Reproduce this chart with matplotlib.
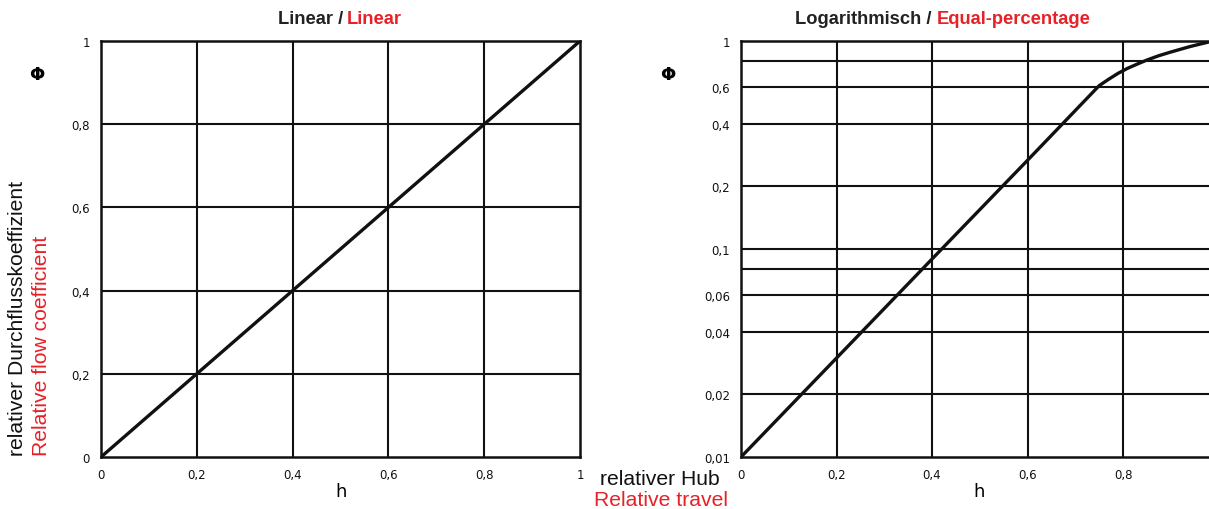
import matplotlib
matplotlib.use("Agg")
import matplotlib.pyplot as plt

# Linear characteristic
lin_h = [0.0, 1.0]
lin_phi = [0.0, 1.0]
lin_ticks = [0, 0.2, 0.4, 0.6, 0.8, 1]
lin_labels = ["0", "0,2", "0,4", "0,6", "0,8", "1"]

# Equal-percentage characteristic
eq_h = [0.0, 0.2, 0.4, 0.6, 0.75, 0.77, 0.79, 0.81, 0.83, 0.85, 0.875, 0.9, 0.94, 0.98]
eq_phi = [0.01, 0.0299, 0.0895, 0.267, 0.61, 0.655, 0.70, 0.74, 0.775, 0.81, 0.85, 0.885, 0.94, 0.99]
eq_xticks = [0, 0.2, 0.4, 0.6, 0.8]
eq_xlabels = ["0", "0,2", "0,4", "0,6", "0,8"]
eq_yticks = [0.01, 0.02, 0.04, 0.06, 0.1, 0.2, 0.4, 0.6, 1]
eq_ylabels = ["0,01", "0,02", "0,04", "0,06", "0,1", "0,2", "0,4", "0,6", "1"]
eq_ygrid = [0.02, 0.04, 0.06, 0.08, 0.1, 0.2, 0.4, 0.6, 0.8]

RED = "#e62128"
W, H = 1209, 510

fig = plt.figure(figsize=(W / 100, H / 100), dpi=100)


def px(x, y):
    return x / W, 1 - y / H


def style(ax):
    for s in ax.spines.values():
        s.set_linewidth(1.8)
        s.set_color("#111111")
    ax.tick_params(length=0, labelsize=8.5, colors="#111111")
    ax.tick_params(axis="x", pad=8)
    ax.tick_params(axis="y", pad=8)
    ax.minorticks_off()


# --- left: linear ---
ax1 = fig.add_axes([101 / W, 52 / H, 479 / W, 416 / H])
ax1.set_xlim(0, 1)
ax1.set_ylim(0, 1)
for v in lin_ticks[1:-1]:
    ax1.axvline(v, color="#111111", lw=1.5)
    ax1.axhline(v, color="#111111", lw=1.5)
ax1.plot(lin_h, lin_phi, color="#111111", lw=2.4, solid_capstyle="round")
ax1.set_xticks(lin_ticks, lin_labels)
ax1.set_yticks(lin_ticks, lin_labels)
style(ax1)

# --- right: equal percentage (log) ---
ax2 = fig.add_axes([741 / W, 52 / H, 468 / W, 416 / H])
ax2.set_yscale("log")
ax2.set_xlim(0, 0.98)
ax2.set_ylim(0.01, 1)
for v in eq_xticks[1:]:
    ax2.axvline(v, color="#111111", lw=1.5)
for v in eq_ygrid:
    ax2.axhline(v, color="#111111", lw=1.5)
ax2.plot(eq_h, eq_phi, color="#111111", lw=2.4, solid_capstyle="round")
ax2.set_xticks(eq_xticks, eq_xlabels)
ax2.set_yticks(eq_yticks, eq_ylabels)
ax2.spines["right"].set_visible(False)
style(ax2)

# titles (two-coloured)
tfont = dict(fontsize=13.2, fontweight="bold", family="Liberation Sans", va="center")
fig.text(*px(343, 20), "Linear /", ha="right", color="#222222", **tfont)
fig.text(*px(347, 20), "Linear", ha="left", color=RED, **tfont)
fig.text(*px(932, 20), "Logarithmisch /", ha="right", color="#222222", **tfont)
fig.text(*px(937, 20), "Equal-percentage", ha="left", color=RED, **tfont)

# Phi and h symbols
fig.text(*px(37, 75), "Φ", ha="center", va="center", fontsize=13, fontweight="bold")
fig.text(*px(668, 75), "Φ", ha="center", va="center", fontsize=13, fontweight="bold")
fig.text(*px(341, 492), "h", ha="center", va="center", fontsize=13)
fig.text(*px(979, 492), "h", ha="center", va="center", fontsize=13)

# axis descriptions
lfont = dict(fontsize=15.2, family="Liberation Sans")
fig.text(*px(18, 456), "relativer Durchflusskoeffizient", rotation=90,
         ha="center", va="bottom", color="#111111", **lfont)
fig.text(*px(42, 456), "Relative flow coefficient", rotation=90,
         ha="center", va="bottom", color=RED, **lfont)
fig.text(*px(660, 480), "relativer Hub", ha="center", va="center", color="#111111", **lfont)
fig.text(*px(661, 501), "Relative travel", ha="center", va="center", color=RED, **lfont)

fig.savefig("out.png", dpi=100)
